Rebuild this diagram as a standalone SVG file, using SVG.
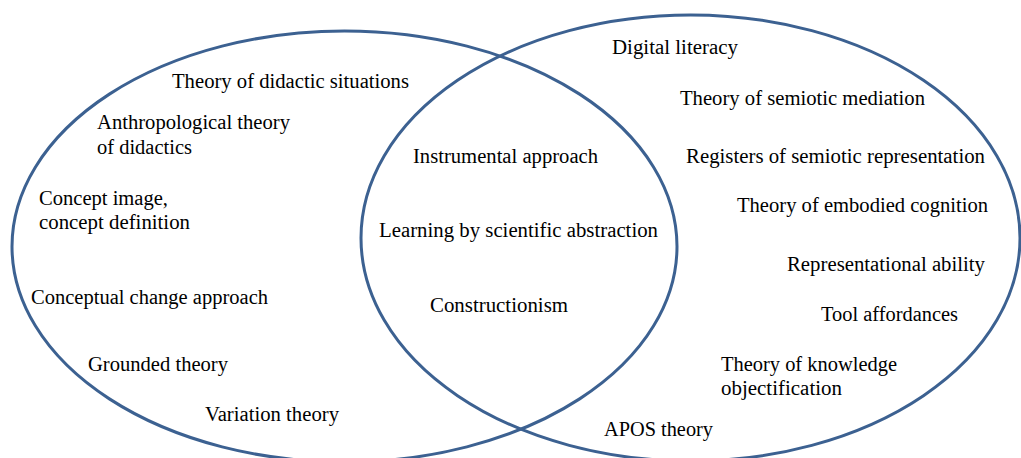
<svg xmlns="http://www.w3.org/2000/svg" width="1021" height="458" viewBox="0 0 1021 458">
<style>
.ring{fill:none;stroke:#3C6191;stroke-width:3}
text{font-family:"Liberation Serif","Times New Roman",serif;font-size:20.5px;fill:#000}
</style>
<rect width="1021" height="458" fill="#fff"/>
<g id="sets">
<ellipse id="left-set" class="ring" cx="344.5" cy="246.5" rx="332.5" ry="215.5"/>
<ellipse id="right-set" class="ring" cx="690.5" cy="238" rx="329.5" ry="223"/>
</g>
<g id="left-labels">
<text x="172" y="88" textLength="237" lengthAdjust="spacingAndGlyphs">Theory of didactic situations</text>
<text x="97" y="129" textLength="193" lengthAdjust="spacingAndGlyphs">Anthropological theory</text>
<text x="97" y="154" textLength="95" lengthAdjust="spacingAndGlyphs">of didactics</text>
<text x="39" y="205" textLength="129" lengthAdjust="spacingAndGlyphs">Concept image,</text>
<text x="39" y="229" textLength="151" lengthAdjust="spacingAndGlyphs">concept definition</text>
<text x="31" y="304" textLength="237" lengthAdjust="spacingAndGlyphs">Conceptual change approach</text>
<text x="88" y="371" textLength="140" lengthAdjust="spacingAndGlyphs">Grounded theory</text>
<text x="205" y="421" textLength="134" lengthAdjust="spacingAndGlyphs">Variation theory</text>
</g>
<g id="shared-labels">
<text x="413" y="163" textLength="185" lengthAdjust="spacingAndGlyphs">Instrumental approach</text>
<text x="379" y="237" textLength="279" lengthAdjust="spacingAndGlyphs">Learning by scientific abstraction</text>
<text x="430" y="312" textLength="138" lengthAdjust="spacingAndGlyphs">Constructionism</text>
</g>
<g id="right-labels">
<text x="612" y="54" textLength="126" lengthAdjust="spacingAndGlyphs">Digital literacy</text>
<text x="680" y="105" textLength="245" lengthAdjust="spacingAndGlyphs">Theory of semiotic mediation</text>
<text x="686" y="163" textLength="299" lengthAdjust="spacingAndGlyphs">Registers of semiotic representation</text>
<text x="737" y="212" textLength="251" lengthAdjust="spacingAndGlyphs">Theory of embodied cognition</text>
<text x="787" y="271" textLength="198" lengthAdjust="spacingAndGlyphs">Representational ability</text>
<text x="821" y="321" textLength="137" lengthAdjust="spacingAndGlyphs">Tool affordances</text>
<text x="721" y="371" textLength="176" lengthAdjust="spacingAndGlyphs">Theory of knowledge</text>
<text x="721" y="395" textLength="121" lengthAdjust="spacingAndGlyphs">objectification</text>
<text x="604" y="436" textLength="109" lengthAdjust="spacingAndGlyphs">APOS theory</text>
</g>
</svg>
